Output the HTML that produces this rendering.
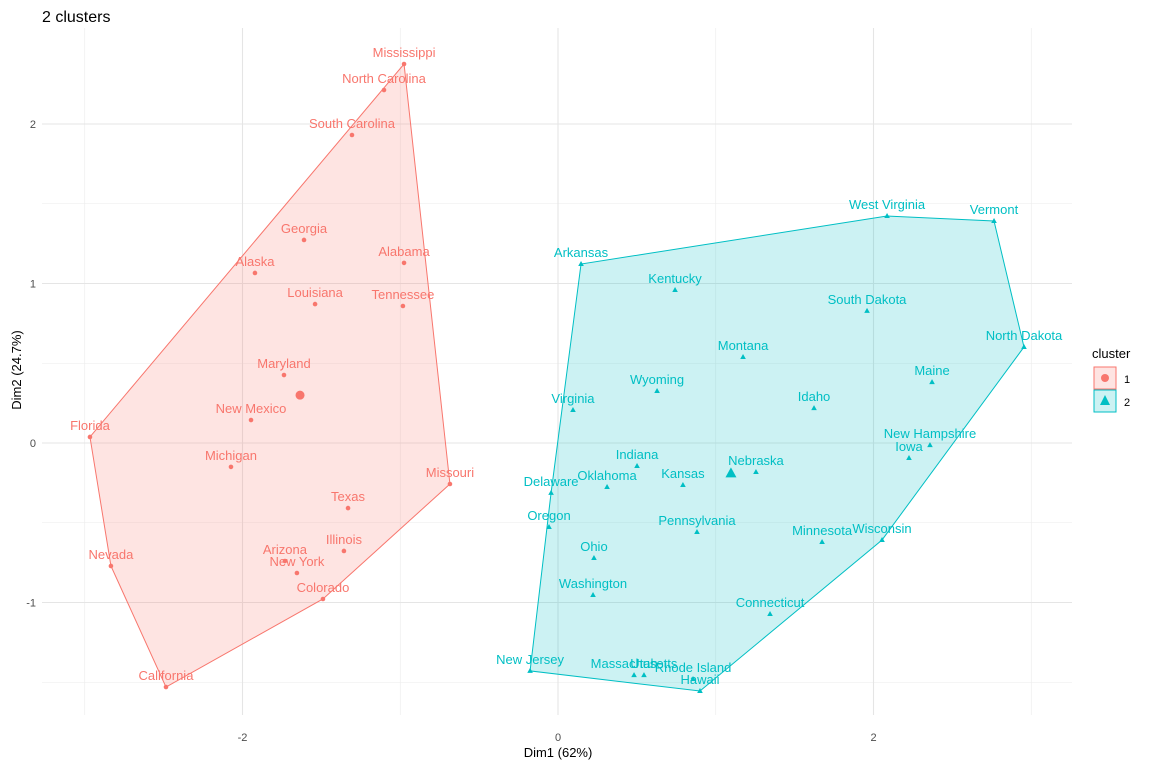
<!DOCTYPE html>
<html><head><meta charset="utf-8">
<style>
body{margin:0;background:#fff;font-family:"Liberation Sans",sans-serif;}
svg{display:block}
</style></head>
<body>
<svg id="chart" width="1152" height="768">
<text x="42" y="22" font-size="16" fill="#000">2 clusters</text>
<g id="grid"></g>
<g id="hulls"></g>
<g id="points"></g>
<g id="labels"></g>
<g id="axes"></g>
<text x="558" y="757" font-size="13" text-anchor="middle" fill="#000">Dim1 (62%)</text>
<text transform="translate(21,370) rotate(-90)" font-size="13" text-anchor="middle" fill="#000">Dim2 (24.7%)</text>
<g>
<text x="1092" y="358" font-size="13" fill="#000">cluster</text>
<g>
<rect x="1094" y="367" width="22" height="22" fill="#F8766D" fill-opacity="0.2" stroke="#F8766D"/>
<circle cx="1105" cy="378" r="4" fill="#F8766D"/>
<text x="1124" y="383" font-size="11" fill="#000">1</text></g>
<g>
<rect x="1094" y="390" width="22" height="22" fill="#00BFC4" fill-opacity="0.2" stroke="#00BFC4"/>
<path d="M1105,395 L1110,405 L1100,405 Z" fill="#00BFC4"/>
<text x="1124" y="406" font-size="11" fill="#000">2</text></g>
</g>
</svg>
<script>
const names1=["Mississippi","North Carolina","South Carolina","Georgia","Alaska","Alabama","Louisiana","Tennessee","Maryland","New Mexico","Florida","Michigan","Missouri","Texas","Illinois","Arizona","New York","Colorado","Nevada","California"];
const dim1_c1=[-0.976,-1.103,-1.306,-1.610,-1.921,-0.976,-1.540,-0.983,-1.737,-1.946,-2.967,-2.073,-0.685,-1.331,-1.357,-1.731,-1.655,-1.490,-2.834,-2.485];
const dim2_c1=[2.376,2.213,1.931,1.273,1.066,1.129,0.871,0.859,0.426,0.144,0.038,-0.150,-0.257,-0.408,-0.677,-0.740,-0.815,-0.978,-0.771,-1.530];
const names2=["West Virginia","Vermont","Arkansas","Kentucky","South Dakota","North Dakota","Montana","Maine","Wyoming","Idaho","Virginia","New Hampshire","Iowa","Indiana","Nebraska","Oklahoma","Kansas","Delaware","Oregon","Pennsylvania","Wisconsin","Minnesota","Ohio","Washington","Connecticut","New Jersey","Massachusetts","Utah","Rhode Island","Hawaii"];
const dim1_c2=[2.086,2.764,0.146,0.742,1.959,2.954,1.173,2.371,0.628,1.623,0.095,2.358,2.225,0.501,1.255,0.311,0.792,-0.044,-0.057,0.881,2.054,1.674,0.228,0.222,1.344,-0.177,0.482,0.545,0.856,0.900];
const dim2_c2=[1.423,1.392,1.122,0.959,0.828,0.602,0.539,0.382,0.326,0.219,0.207,-0.013,-0.094,-0.144,-0.182,-0.276,-0.263,-0.313,-0.527,-0.558,-0.608,-0.621,-0.721,-0.953,-1.072,-1.429,-1.455,-1.455,-1.480,-1.555];
const xMajor=[-2,0,2], xMinor=[-3,-1,1,3];
const yMajor=[-1,0,1,2], yMinor=[-1.5,-0.5,0.5,1.5];
const xLabels=["-2","0","2"], yLabels=["-1","0","1","2"];
const X=v=>558+v*157.75, Y=v=>443-v*159.5;
const NS="http://www.w3.org/2000/svg";
function mk(tag,attrs,parent){const e=document.createElementNS(NS,tag);for(const k in attrs)e.setAttribute(k,attrs[k]);parent.appendChild(e);return e;}
const grid=document.getElementById('grid'),axes=document.getElementById('axes');
const L=42,R=1072,T=28,B=715;
xMinor.forEach(v=>{const l=mk('line',{x1:X(v),x2:X(v),y1:T,y2:B,stroke:'#ebebeb','stroke-width':0.6},grid);});
yMinor.forEach(v=>{const l=mk('line',{x1:L,x2:R,y1:Y(v),y2:Y(v),stroke:'#ebebeb','stroke-width':0.6},grid);});
xMajor.forEach((v,i)=>{const l=mk('line',{x1:X(v),x2:X(v),y1:T,y2:B,stroke:'#e5e5e5','stroke-width':1.1},grid);
const t=mk('text',{x:X(v),y:B+26,'font-size':11,'text-anchor':'middle',fill:'#4d4d4d'},axes);t.textContent=xLabels[i];});
yMajor.forEach((v,i)=>{const l=mk('line',{x1:L,x2:R,y1:Y(v),y2:Y(v),stroke:'#e5e5e5','stroke-width':1.1},grid);
const t=mk('text',{x:36,y:Y(v)+4,'font-size':11,'text-anchor':'end',fill:'#4d4d4d'},axes);t.textContent=yLabels[i];});
function hull(pts){pts=pts.slice().sort((a,b)=>a[0]-b[0]||a[1]-b[1]);const cr=(o,a,b)=>(a[0]-o[0])*(b[1]-o[1])-(a[1]-o[1])*(b[0]-o[0]);const lo=[],up=[];for(const p of pts){while(lo.length>=2&&cr(lo[lo.length-2],lo[lo.length-1],p)<=0)lo.pop();lo.push(p);}for(const p of pts.slice().reverse()){while(up.length>=2&&cr(up[up.length-2],up[up.length-1],p)<=0)up.pop();up.push(p);}return lo.slice(0,-1).concat(up.slice(0,-1));}
function cluster(names,xs,ys,col,shape,id){
 const pts=xs.map((x,i)=>[X(x),Y(ys[i])]);
 const h=hull(pts);
 const pg=mk('polygon',{points:h.map(p=>p.join(',')).join(' '),fill:col,'fill-opacity':0.2,stroke:col,'stroke-width':1},document.getElementById('hulls'));
 
 const P=document.getElementById('points'),Lb=document.getElementById('labels');
 pts.forEach((p,i)=>{let e;
  if(shape==='c')e=mk('circle',{cx:p[0],cy:p[1],r:2.3,fill:col},P);
  else e=mk('path',{d:`M${p[0]},${p[1]-3} L${p[0]+2.8},${p[1]+2} L${p[0]-2.8},${p[1]+2} Z`,fill:col},P);
  
  const t=mk('text',{x:p[0],y:p[1]-7,'font-size':13,'text-anchor':'middle',fill:col},Lb);t.textContent=names[i];
  });
 const mx=xs.reduce((a,b)=>a+b,0)/xs.length,my=ys.reduce((a,b)=>a+b,0)/ys.length;
 let c;if(shape==='c')c=mk('circle',{cx:X(mx),cy:Y(my),r:4.5,fill:col},P);
 else c=mk('path',{d:`M${X(mx)},${Y(my)-6} L${X(mx)+5.5},${Y(my)+4} L${X(mx)-5.5},${Y(my)+4} Z`,fill:col},P);
 
}
cluster(names1,dim1_c1,dim2_c1,'#F8766D','c','1');
cluster(names2,dim1_c2,dim2_c2,'#00BFC4','t','2');
</script>
</body></html>
